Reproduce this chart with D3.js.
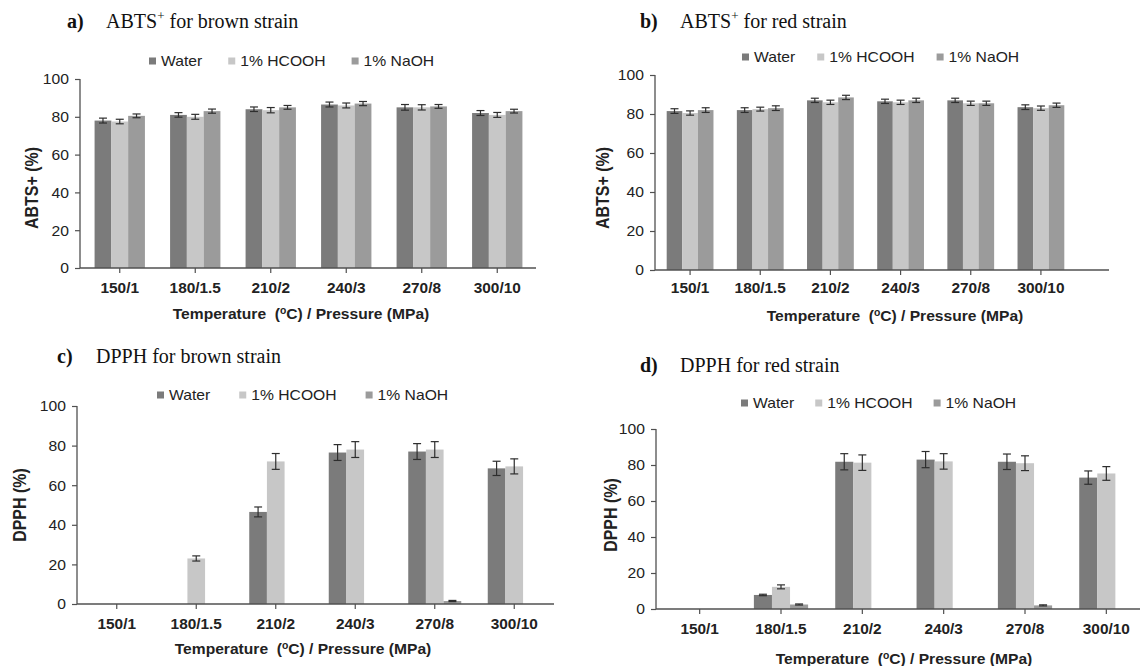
<!DOCTYPE html>
<html><head><meta charset="utf-8">
<script src="https://cdn.jsdelivr.net/npm/d3@7"></script>
<style>
body{margin:0;background:#fff}
svg{display:block}
</style>
</head><body>
<svg id="chart" width="1140" height="666"></svg>
<script>
// ---------- data ----------
const categories = ["150/1", "180/1.5", "210/2", "240/3", "270/8", "300/10"];
const seriesNames = ["Water", "1% HCOOH", "1% NaOH"];
const yTicks = [0, 20, 40, 60, 80, 100];

// a) ABTS+ for brown strain
const abtsBrownWater = [78, 81, 84, 86.5, 85, 82];
const abtsBrownHcooh = [77.5, 80, 83.5, 86, 85, 81];
const abtsBrownNaoh  = [80.5, 83, 85, 87, 85.5, 83];
const abtsBrownWaterErr = [1.3, 1.2, 1.2, 1.3, 1.5, 1.3];
const abtsBrownHcoohErr = [1.2, 1.3, 1.4, 1.3, 1.4, 1.3];
const abtsBrownNaohErr  = [1.0, 1.1, 1.0, 1.1, 1.0, 1.0];

// b) ABTS+ for red strain
const abtsRedWater = [81.5, 82, 87, 86.5, 87, 83.5];
const abtsRedHcooh = [80.5, 82.5, 86, 86, 85.5, 83];
const abtsRedNaoh  = [82, 83, 88.5, 87, 85.5, 84.5];
const abtsRedWaterErr = [1.2, 1.2, 1.1, 1.1, 1.1, 1.2];
const abtsRedHcoohErr = [1.1, 1.0, 1.1, 1.1, 1.1, 1.1];
const abtsRedNaohErr  = [1.2, 1.2, 1.1, 1.1, 1.1, 1.1];

// c) DPPH for brown strain
const dpphBrownWater = [0, 0, 46.5, 76.5, 77, 68.5];
const dpphBrownHcooh = [0, 23, 72, 78, 78, 69.5];
const dpphBrownNaoh  = [0, 0, 0, 0, 1.5, 0];
const dpphBrownWaterErr = [0, 0, 2.5, 4, 4, 3.6];
const dpphBrownHcoohErr = [0, 1.3, 4, 4, 4, 3.8];
const dpphBrownNaohErr  = [0, 0, 0, 0, 0.3, 0];

// d) DPPH for red strain
const dpphRedWater = [0, 7.8, 81.8, 83, 81.8, 73];
const dpphRedHcooh = [0, 12.3, 81.3, 82, 81, 75.3];
const dpphRedNaoh  = [0, 2.5, 0, 0, 2, 0];
const dpphRedWaterErr = [0, 0.4, 4.5, 4.5, 4.3, 3.7];
const dpphRedHcoohErr = [0, 1.1, 4.3, 4.3, 4.1, 3.8];
const dpphRedNaohErr  = [0, 0.3, 0, 0, 0.3, 0];

// ---------- styles / layout ----------
const colors = ["#7b7b7b", "#c7c7c7", "#9b9b9b"];
const SANS = "'Liberation Sans', Arial, sans-serif";
const SERIF = "'Liberation Serif', 'Times New Roman', serif";
const STRETCH = 1.12;
const axisColor = "#505050";

const panels = [
  { letter: "a)", main: "ABTS", sup: "+", rest: " for brown strain", ytitle: "ABTS+ (%)",
    series: [abtsBrownWater, abtsBrownHcooh, abtsBrownNaoh],
    errors: [abtsBrownWaterErr, abtsBrownHcoohErr, abtsBrownNaohErr],
    L: { axisX: 80, bx0: 82, bx1: 535, axisEnd: 536, y0: 268, y1: 79,
         letterX: 67, titleX: 106, titleY: 28, legendX: 149, legendY: 61, legendGap: 26,
         tickLabelY: 288, xTitleX: 301, xTitleY: 314, yTitleX: 32, yTitleY: 188 } },
  { letter: "b)", main: "ABTS", sup: "+", rest: " for red strain", ytitle: "ABTS+ (%)",
    series: [abtsRedWater, abtsRedHcooh, abtsRedNaoh],
    errors: [abtsRedWaterErr, abtsRedHcoohErr, abtsRedNaohErr],
    L: { axisX: 655, bx0: 655, bx1: 1076, axisEnd: 1109, y0: 270, y1: 75,
         letterX: 640, titleX: 680, titleY: 28, legendX: 742, legendY: 57, legendGap: 22,
         tickLabelY: 288, xTitleX: 895, xTitleY: 316, yTitleX: 603, yTitleY: 188 } },
  { letter: "c)", main: "DPPH", sup: "", rest: " for brown strain", ytitle: "DPPH (%)",
    series: [dpphBrownWater, dpphBrownHcooh, dpphBrownNaoh],
    errors: [dpphBrownWaterErr, dpphBrownHcoohErr, dpphBrownNaohErr],
    L: { axisX: 77, bx0: 77, bx1: 554, axisEnd: 554, y0: 604, y1: 406,
         letterX: 57, titleX: 96, titleY: 363, legendX: 157, legendY: 395, legendGap: 29,
         tickLabelY: 624, xTitleX: 303, xTitleY: 649, yTitleX: 20, yTitleY: 505 } },
  { letter: "d)", main: "DPPH", sup: "", rest: " for red strain", ytitle: "DPPH (%)",
    series: [dpphRedWater, dpphRedHcooh, dpphRedNaoh],
    errors: [dpphRedWaterErr, dpphRedHcoohErr, dpphRedNaohErr],
    L: { axisX: 656, bx0: 659, bx1: 1147, axisEnd: 1140, y0: 609, y1: 429,
         letterX: 640, titleX: 680, titleY: 372, legendX: 741, legendY: 403, legendGap: 21,
         tickLabelY: 629, xTitleX: 904, xTitleY: 659, yTitleX: 611, yTitleY: 515 } }
];

const svg = d3.select("#chart");

function drawPanel(p) {
  const L = p.L;
  const g = svg.append("g");

  const x0 = d3.scaleBand().domain(categories).range([L.bx0, L.bx1])
    .paddingInner(1/3).paddingOuter(1/6);
  const x1 = d3.scaleBand().domain(seriesNames).range([0, x0.bandwidth()]);
  const y = d3.scaleLinear().domain([0, 100]).range([L.y0, L.y1]);

  // title
  g.append("text").attr("x", L.letterX).attr("y", L.titleY)
    .attr("font-family", SERIF).attr("font-size", 20).attr("font-weight", "bold").attr("fill", "#111")
    .text(p.letter);
  const t = g.append("text").attr("x", L.titleX).attr("y", L.titleY)
    .attr("font-family", SERIF).attr("font-size", 20).attr("fill", "#111");
  t.append("tspan").text(p.main);
  if (p.sup) {
    t.append("tspan").attr("font-size", 13).attr("dy", -8).text(p.sup);
    t.append("tspan").attr("dy", 8).text(p.rest);
  } else {
    t.append("tspan").text(p.rest);
  }

  // legend
  let lx = L.legendX;
  seriesNames.forEach((name, i) => {
    g.append("rect").attr("x", lx).attr("y", L.legendY - 3.5).attr("width", 7).attr("height", 7)
      .attr("fill", colors[i]);
    const tx = g.append("text")
      .attr("transform", `translate(${lx + 12},${L.legendY}) scale(${STRETCH},1)`)
      .attr("dy", "0.35em").attr("font-family", SANS).attr("font-size", 14).attr("fill", "#222")
      .text(name);
    const w = tx.node().getComputedTextLength() * STRETCH;
    lx += 12 + w + L.legendGap;
  });

  // bars
  categories.forEach((cat, ci) => {
    seriesNames.forEach((name, si) => {
      const v = p.series[si][ci];
      if (v > 0) {
        g.append("rect")
          .attr("x", x0(cat) + x1(name))
          .attr("y", y(v))
          .attr("width", x1.bandwidth())
          .attr("height", y(0) - y(v))
          .attr("fill", colors[si]);
      }
    });
  });

  // error bars
  categories.forEach((cat, ci) => {
    seriesNames.forEach((name, si) => {
      const v = p.series[si][ci], e = p.errors[si][ci];
      if (v > 0 && e > 0) {
        const cx = x0(cat) + x1(name) + x1.bandwidth() / 2;
        const eg = g.append("g").attr("stroke", "#2e2e2e").attr("stroke-width", 1.2);
        eg.append("line").attr("x1", cx).attr("x2", cx).attr("y1", y(v + e)).attr("y2", y(v - e));
        eg.append("line").attr("x1", cx - 4).attr("x2", cx + 4).attr("y1", y(v + e)).attr("y2", y(v + e));
        eg.append("line").attr("x1", cx - 4).attr("x2", cx + 4).attr("y1", y(v - e)).attr("y2", y(v - e));
      }
    });
  });

  // y axis
  const ya = g.append("g").attr("transform", `translate(${L.axisX},0)`)
    .call(d3.axisLeft(y).tickValues(yTicks).tickSize(5).tickSizeOuter(0))
    .attr("color", axisColor).attr("font-family", SANS).attr("font-size", 14);
  ya.select(".domain").remove();
  ya.selectAll(".tick line").attr("stroke-width", 1.2);
  ya.selectAll(".tick text").attr("x", 0).attr("dy", "0.35em").attr("fill", "#222")
    .attr("transform", `translate(-11,0) scale(${STRETCH},1)`);
  g.append("line").attr("x1", L.axisX).attr("x2", L.axisX).attr("y1", y(0)).attr("y2", y(100))
    .attr("stroke", axisColor).attr("stroke-width", 1.3);

  // x axis
  const xa = g.append("g").attr("transform", `translate(0,${L.y0})`)
    .call(d3.axisBottom(x0).tickSize(5).tickSizeOuter(0))
    .attr("color", axisColor).attr("font-family", SANS).attr("font-size", 14).attr("font-weight", "bold");
  xa.select(".domain").remove();
  xa.selectAll(".tick line").attr("stroke-width", 1.2);
  xa.selectAll(".tick text").attr("y", 0).attr("dy", "0.35em").attr("fill", "#222")
    .attr("transform", `translate(0,${L.tickLabelY - L.y0}) scale(1.1,1)`);
  g.append("line").attr("x1", L.axisX).attr("x2", L.axisEnd).attr("y1", L.y0).attr("y2", L.y0)
    .attr("stroke", axisColor).attr("stroke-width", 1.3);

  // x title
  const xt = g.append("text")
    .attr("transform", `translate(${L.xTitleX},${L.xTitleY}) scale(1.04,1)`)
    .attr("dy", "0.35em").attr("text-anchor", "middle")
    .attr("font-family", SANS).attr("font-size", 15).attr("font-weight", "bold").attr("fill", "#222")
    .style("white-space", "pre");
  xt.append("tspan").text("Temperature  (");
  xt.append("tspan").attr("font-size", 10).attr("dy", -5).text("o");
  xt.append("tspan").attr("dy", 5).text("C) / Pressure (MPa)");

  // y title
  g.append("text")
    .attr("transform", `translate(${L.yTitleX},${L.yTitleY}) scale(${STRETCH},1) rotate(-90)`)
    .attr("dy", "0.35em").attr("text-anchor", "middle")
    .attr("font-family", SANS).attr("font-size", 16).attr("font-weight", "bold").attr("fill", "#222")
    .text(p.ytitle);
}

panels.forEach(drawPanel);
</script>
</body></html>
